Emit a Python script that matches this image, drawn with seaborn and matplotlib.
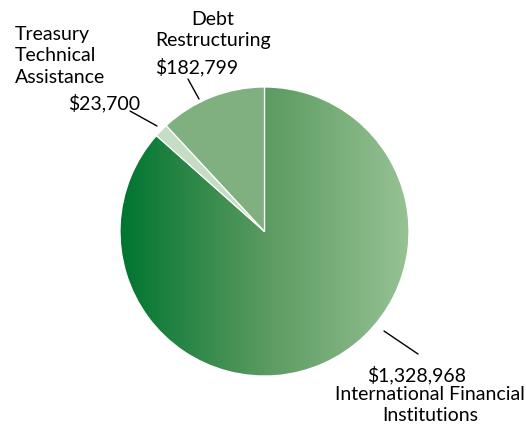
import matplotlib
matplotlib.use("Agg")
import matplotlib.pyplot as plt
import seaborn as sns
import numpy as np
from matplotlib.colors import LinearSegmentedColormap

# Program spending by category (dollars)
categories = ["International Financial Institutions",
              "Treasury Technical Assistance",
              "Debt Restructuring"]
amounts = [1328968, 23700, 182799]
value_labels = ["$1,328,968", "$23,700", "$182,799"]

sns.set_theme(style="white")
plt.rcParams["font.family"] = ["Lato", "DejaVu Sans"]

W, H = 526, 427
fig = plt.figure(figsize=(W / 100, H / 100), dpi=100)
ax = fig.add_axes([0, 0, 1, 1])


def py(y):
    """Convert a top-down pixel row into the axes' bottom-up y value."""
    return H - y


cx, cy, r = 264.5, py(232.5), 144.5
slice_colors = ["#5a9a60", "#c6ddc5", "#80af80"]

wedges, _ = ax.pie(amounts, startangle=90, counterclock=False,
                   center=(cx, cy), radius=r, colors=slice_colors,
                   wedgeprops=dict(edgecolor="white", linewidth=0.9),
                   frame=True)

# Horizontal gradient fill for the largest slice
cmap = LinearSegmentedColormap.from_list(
    "greens", ["#007530", "#5a9a60", "#97c294"])
grad = np.linspace(0, 1, 512).reshape(1, -1)
im = ax.imshow(grad, extent=[cx - r, cx + r, cy - r, cy + r], cmap=cmap,
               aspect="auto", zorder=0.5, interpolation="bilinear")
im.set_clip_path(wedges[0])
wedges[0].set_facecolor("none")

ax.set_xlim(0, W)
ax.set_ylim(0, H)
ax.set_aspect("equal")
ax.axis("off")

fs = 14
txt = dict(fontsize=fs, color="black", linespacing=1.32)

# Treasury Technical Assistance
ax.text(15, py(26), "Treasury\nTechnical\nAssistance", ha="left", va="top", **txt)
ax.text(140, py(103), value_labels[1], ha="right", va="center", **txt)
ax.plot([130, 157], [py(112), py(127)], color="black", lw=1)

# Debt Restructuring
ax.text(213, py(11), "Debt\nRestructuring", ha="center", va="top", **txt)
ax.text(155, py(67), value_labels[2], ha="left", va="center", **txt)
ax.plot([188, 199], [py(80), py(100)], color="black", lw=1)

# International Financial Institutions
ax.text(367, py(375), value_labels[0], ha="left", va="center", **txt)
ax.text(430, py(386), "International Financial\nInstitutions", ha="center",
        va="top", **txt)
ax.plot([384, 418], [py(332), py(355)], color="black", lw=1)

fig.savefig("out.png", dpi=100)
